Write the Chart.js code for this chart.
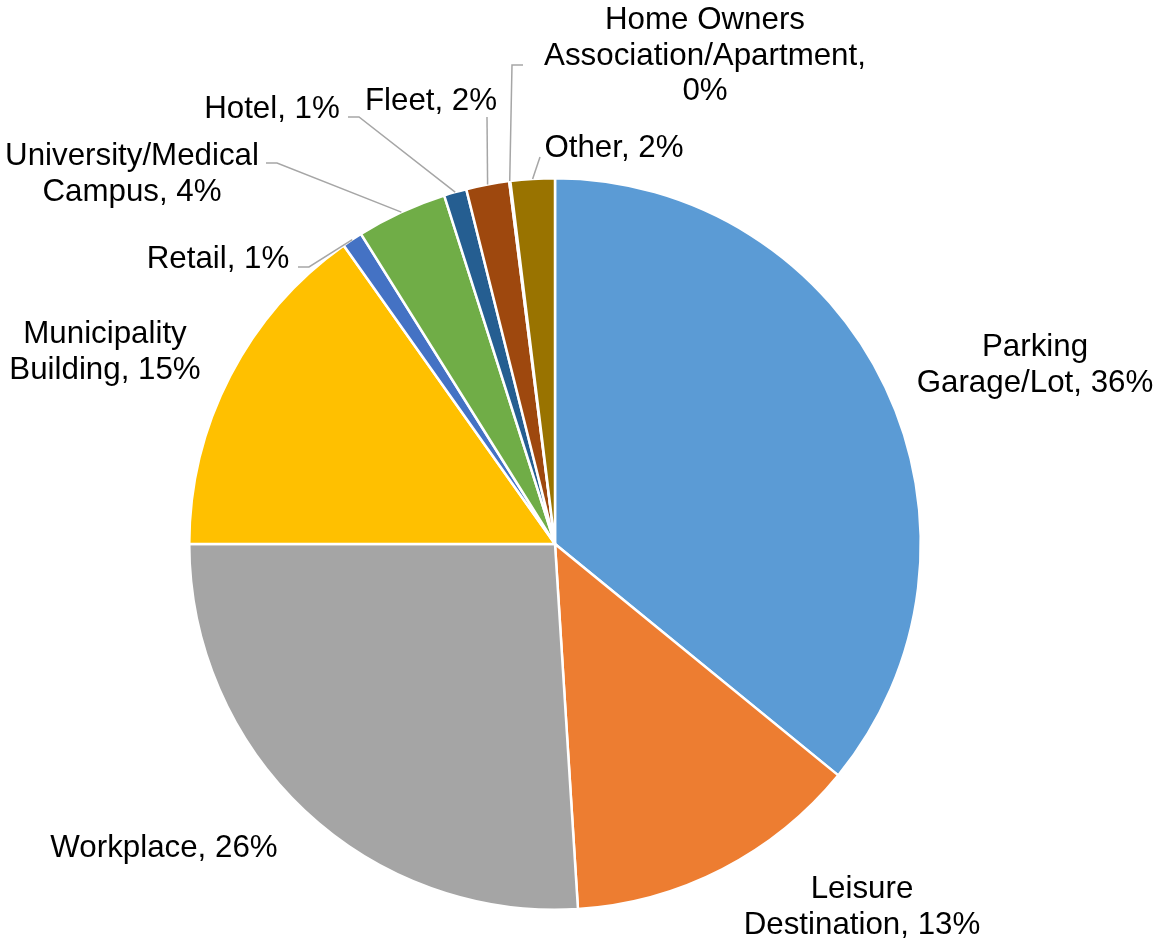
<!DOCTYPE html>
<html>
<head>
<meta charset="utf-8">
<script src="https://cdn.jsdelivr.net/npm/chart.js@4.4.1/dist/chart.umd.min.js"></script>
<style>
  html, body { margin: 0; padding: 0; background: #ffffff; }
  #wrap { width: 1159px; height: 939px; position: relative; }
</style>
</head>
<body>
<div id="wrap"><canvas id="c" width="1159" height="939"></canvas></div>
<script>
// ---- data ----
const categories = [
  'Parking\nGarage/Lot',
  'Leisure\nDestination',
  'Workplace',
  'Municipality\nBuilding',
  'Retail',
  'University/Medical\nCampus',
  'Hotel',
  'Fleet',
  'Home Owners\nAssociation/Apartment',
  'Other'
];
const values = [35.9, 13.1, 26.0, 15.2, 0.9, 4.0, 1.0, 1.9, 0.05, 1.95];
const colors = ['#5B9BD5', '#ED7D31', '#A5A5A5', '#FFC000', '#4472C4', '#70AD47', '#255E91', '#9E480E', '#636363', '#997300'];

// ---- label layout (text centre x, first baseline y, leader elbow points) ----
const labelLayout = [
  { x: 1035, y: 356 },
  { x: 862, y: 898 },
  { x: 164, y: 857 },
  { x: 105, y: 343 },
  { x: 218, y: 268, leader: [[298, 267], [309, 267]] },
  { x: 132, y: 165, leader: [[266, 163], [277, 163]] },
  { x: 272, y: 118, leader: [[348, 117], [359, 117]] },
  { x: 431, y: 110, leader: [[487, 117]] },
  { x: 705, y: 29, pctOwnLine: true, leader: [[523, 65], [512, 65]] },
  { x: 614, y: 157, leader: [[540, 157]] }
];

const FONT = '31.3px "Liberation Sans", Arial, sans-serif';
const LINE_H = 35.5;

const labelPlugin = {
  id: 'outLabels',
  afterDatasetsDraw(chart) {
    const ctx = chart.ctx;
    const meta = chart.getDatasetMeta(0);
    const total = values.reduce((a, b) => a + b, 0);
    ctx.save();
    meta.data.forEach((arc, i) => {
      const L = labelLayout[i];
      const p = arc.getProps(['x', 'y', 'startAngle', 'endAngle', 'outerRadius'], true);
      const mid = (p.startAngle + p.endAngle) / 2;
      const ax = p.x + Math.cos(mid) * p.outerRadius;
      const ay = p.y + Math.sin(mid) * p.outerRadius;
      if (L.leader) {
        ctx.beginPath();
        ctx.strokeStyle = '#A6A6A6';
        ctx.lineWidth = 1.5;
        ctx.moveTo(L.leader[0][0], L.leader[0][1]);
        for (let k = 1; k < L.leader.length; k++) ctx.lineTo(L.leader[k][0], L.leader[k][1]);
        ctx.lineTo(ax, ay);
        ctx.stroke();
      }
      const pct = Math.round(values[i] / total * 100) + '%';
      const text = categories[i] + ',' + (L.pctOwnLine ? '\n' : ' ') + pct;
      const lines = text.split('\n');
      ctx.fillStyle = '#000000';
      ctx.font = FONT;
      ctx.textAlign = 'center';
      ctx.textBaseline = 'alphabetic';
      lines.forEach((ln, j) => ctx.fillText(ln, L.x, L.y + j * LINE_H));
    });
    ctx.restore();
  }
};

new Chart(document.getElementById('c'), {
  type: 'pie',
  data: {
    labels: categories.map(c => c.replace('\n', ' ')),
    datasets: [{
      data: values,
      backgroundColor: colors,
      borderColor: '#ffffff',
      borderWidth: 2.5
    }]
  },
  options: {
    responsive: false,
    animation: false,
    rotation: 0,
    layout: { padding: { left: 188, right: 237, top: 177, bottom: 28 } },
    plugins: {
      legend: { display: false },
      tooltip: { enabled: false },
      title: { display: false }
    }
  },
  plugins: [labelPlugin]
});
</script>
</body>
</html>
